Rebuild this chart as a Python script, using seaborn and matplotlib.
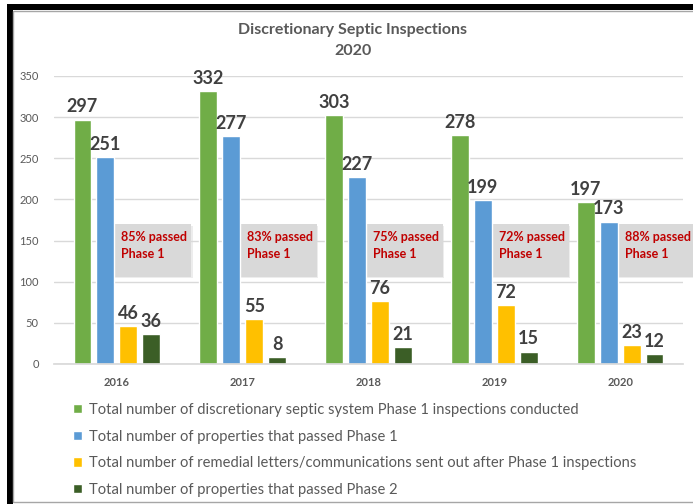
import pandas as pd
import seaborn as sns
import matplotlib.pyplot as plt
from matplotlib.patches import Rectangle

# chart data
years = ['2016', '2017', '2018', '2019', '2020']
inspections = [297, 332, 303, 278, 197]
passed_phase1 = [251, 277, 227, 199, 173]
remedial_letters = [46, 55, 76, 72, 23]
passed_phase2 = [36, 8, 21, 15, 12]
pct_passed = ['85%', '83%', '75%', '72%', '88%']

series_names = [
    'Total number of discretionary septic system Phase 1 inspections conducted',
    'Total number of properties that passed Phase 1',
    'Total number of remedial letters/communications sent out after Phase 1 inspections',
    'Total number of properties that passed Phase 2',
]
colors = ['#70AD47', '#5B9BD5', '#FFC000', '#3B5E26']

W, H = 693, 504


def fx(px):
    return px / W


def fy(py):
    return 1 - py / H


def run():
    sns.set_theme(style='white')
    plt.rcParams['font.family'] = ['Lato', 'DejaVu Sans']

    rows = []
    for name, vals in zip(series_names, [inspections, passed_phase1, remedial_letters, passed_phase2]):
        for yr, v in zip(years, vals):
            rows.append({'year': yr, 'value': v, 'series': name})
    df = pd.DataFrame(rows)

    fig = plt.figure(figsize=(W / 100, H / 100), dpi=100)
    ax = fig.add_axes([fx(54), fy(364), fx(683) - fx(54), fy(76) - fy(364)])

    # annotation boxes behind the bars
    for i, pct in enumerate(pct_passed):
        x0 = i - 0.03
        ax.add_patch(Rectangle((x0 + 0.012, 104), 0.62, 64, facecolor='#EDEDED',
                               edgecolor='none', zorder=0.5, clip_on=False))
        ax.add_patch(Rectangle((x0, 106), 0.62, 64, facecolor='#D9D9D9',
                               edgecolor='none', zorder=0.6, clip_on=False))
        ax.text(x0 + 0.065, 144, f'{pct} passed\nPhase 1', color='#C00000',
                fontsize=9, fontweight='bold', va='center', ha='left',
                linespacing=1.45, zorder=0.7, clip_on=False)

    sns.barplot(data=df, x='year', y='value', hue='series', palette=colors,
                width=0.73, gap=0.22, saturation=1, ax=ax, zorder=2)

    for cont in ax.containers:
        ax.bar_label(cont, padding=3, fontsize=13, fontweight='bold', color='#404040')

    ax.set_xlim(-0.5, 4.5)
    ax.set_ylim(0, 350)
    ax.set_yticks(range(0, 351, 50))
    ax.yaxis.grid(True, color='#D9D9D9', linewidth=1)
    ax.set_axisbelow(True)
    for s in ['top', 'right', 'left']:
        ax.spines[s].set_visible(False)
    ax.spines['bottom'].set_color('#D9D9D9')
    ax.tick_params(axis='y', length=0, labelsize=8, labelcolor='#595959', pad=11)
    ax.tick_params(axis='x', length=0, labelsize=8, labelcolor='#595959', pad=9)
    for lbl in ax.get_xticklabels():
        lbl.set_fontweight('bold')
    ax.set_xlabel('')
    ax.set_ylabel('')

    handles, labels = ax.get_legend_handles_labels()
    ax.legend(handles, labels, loc='upper left', bbox_to_anchor=(fx(73), fy(403)),
              bbox_transform=fig.transFigure, frameon=False, fontsize=10.6,
              handlelength=0.6, handleheight=0.6, handletextpad=0.5,
              labelspacing=0.86, borderpad=0, borderaxespad=0,
              labelcolor='#595959')

    fig.text(fx(353), fy(30), 'Discretionary Septic Inspections', ha='center', va='center',
             fontsize=11.5, fontweight='bold', color='#595959')
    fig.text(fx(353), fy(51), '2020', ha='center', va='center',
             fontsize=11.5, fontweight='bold', color='#595959')

    # screenshot frame
    fig.add_artist(Rectangle((fx(7), fy(504)), fx(6), fy(4) - fy(504), transform=fig.transFigure,
                             facecolor='black', edgecolor='none'))
    fig.add_artist(Rectangle((fx(7), fy(10)), 1, fy(4) - fy(10), transform=fig.transFigure,
                             facecolor='black', edgecolor='none'))
    fig.add_artist(Rectangle((fx(13), fy(502)), 1, fy(11) - fy(502), transform=fig.transFigure,
                             facecolor='none', edgecolor='#A6A6A6', linewidth=1))

    fig.savefig('out.png', dpi=100)
    plt.close(fig)


if __name__ == "__main__":
    run()
